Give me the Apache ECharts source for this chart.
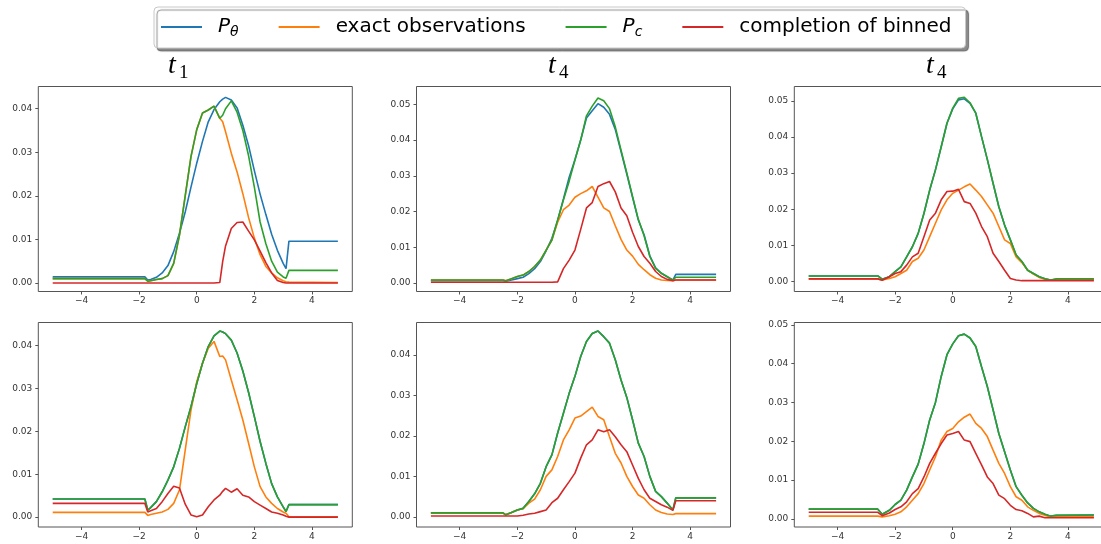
<!DOCTYPE html>
<html>
<head>
<meta charset="utf-8">
<script src="https://cdn.jsdelivr.net/npm/echarts@6/dist/echarts.min.js"></script>
<style>
  html, body { margin: 0; padding: 0; background: #fff; }
  #chart { width: 1101px; height: 544px; }
</style>
</head>
<body>
<div id="chart"></div>
<script>
// Sample positions (x) and densities for the six panels.
// Panels 1 and 4 (column t1)
const xs1 = [-5, -1.8, -1.7, -1.6, -1.4, -1.2, -1.0, -0.8, -0.6, -0.4, -0.2, 0, 0.2, 0.4, 0.6, 0.8, 0.9, 1.0, 1.2, 1.4, 1.6, 1.8, 2.0, 2.2, 2.4, 2.6, 2.8, 3.0, 3.1, 3.2, 4.9];
const theta1  = [0.0014, 0.0014, 0.0007, 0.0008, 0.0013, 0.0023, 0.0040, 0.0072, 0.0114, 0.0163, 0.0220, 0.0275, 0.0325, 0.0370, 0.0398, 0.0416, 0.0422, 0.0426, 0.0420, 0.0402, 0.0362, 0.0315, 0.0258, 0.0204, 0.0157, 0.0112, 0.0075, 0.0045, 0.0033, 0.0096, 0.0096];
const exact1  = [0.0010, 0.0010, 0.0004, 0.0005, 0.0008, 0.0010, 0.0017, 0.0045, 0.0110, 0.0200, 0.0290, 0.0352, 0.0390, 0.0397, 0.0406, 0.0378, 0.0370, 0.0347, 0.0298, 0.0255, 0.0205, 0.0150, 0.0103, 0.0065, 0.0038, 0.0023, 0.0012, 0.0005, 0.0003, 0.0002, 0.0001];
const pc1     = [0.0010, 0.0010, 0.0004, 0.0005, 0.0008, 0.0010, 0.0017, 0.0045, 0.0110, 0.0200, 0.0290, 0.0352, 0.0390, 0.0397, 0.0406, 0.0378, 0.0385, 0.0400, 0.0418, 0.0392, 0.0350, 0.0292, 0.0220, 0.0140, 0.0090, 0.0050, 0.0025, 0.0014, 0.0011, 0.0029, 0.0029];
const binned1 = [0, 0, 0, 0, 0, 0, 0, 0, 0, 0, 0, 0, 0, 0, 0, 0.0001, 0.0049, 0.0085, 0.0125, 0.0139, 0.0140, 0.0119, 0.0099, 0.0073, 0.0047, 0.0023, 0.0006, 0.0001, 0, 0, 0];

const xs4 = [-5, -1.8, -1.7, -1.6, -1.4, -1.2, -1.0, -0.8, -0.6, -0.4, -0.2, 0, 0.2, 0.4, 0.6, 0.8, 0.9, 1.0, 1.2, 1.4, 1.6, 1.8, 2.0, 2.2, 2.4, 2.6, 2.8, 3.0, 3.1, 3.2, 4.9];
const theta4  = [0.0042, 0.0042, 0.0016, 0.0022, 0.0036, 0.0059, 0.0086, 0.0117, 0.0160, 0.0210, 0.0257, 0.0311, 0.0358, 0.0397, 0.0422, 0.0433, 0.0431, 0.0427, 0.0412, 0.0382, 0.0340, 0.0290, 0.0234, 0.0176, 0.0125, 0.0078, 0.0047, 0.0024, 0.0013, 0.0029, 0.0029];
const exact4  = [0.0011, 0.0011, 0.0004, 0.0006, 0.0009, 0.0012, 0.0018, 0.0032, 0.0063, 0.0156, 0.0249, 0.0315, 0.0358, 0.0393, 0.0409, 0.0374, 0.0375, 0.0366, 0.0319, 0.0273, 0.0226, 0.0172, 0.0117, 0.0071, 0.0047, 0.0032, 0.0020, 0.0012, 0.0009, 0.0001, 0.0001];
const pc4     = [0.0042, 0.0042, 0.0016, 0.0022, 0.0036, 0.0059, 0.0086, 0.0117, 0.0160, 0.0210, 0.0257, 0.0311, 0.0358, 0.0397, 0.0422, 0.0433, 0.0431, 0.0427, 0.0412, 0.0382, 0.0340, 0.0290, 0.0234, 0.0176, 0.0125, 0.0078, 0.0047, 0.0024, 0.0013, 0.0029, 0.0029];
const binned4 = [0.0032, 0.0032, 0.0012, 0.0015, 0.0020, 0.0036, 0.0055, 0.0072, 0.0068, 0.0030, 0.0005, 0.0001, 0.0005, 0.0024, 0.0040, 0.0051, 0.0060, 0.0067, 0.0058, 0.0066, 0.0051, 0.0047, 0.0036, 0.0028, 0.0020, 0.0012, 0.0009, 0.0005, 0.0002, 0, 0];

// Panels 2 and 5 (middle column)
const xs2 = [-5, -2.5, -2.4, -2.2, -2.0, -1.8, -1.6, -1.4, -1.2, -1.0, -0.8, -0.6, -0.4, -0.2, 0, 0.2, 0.4, 0.6, 0.8, 1.0, 1.2, 1.4, 1.6, 1.8, 2.0, 2.2, 2.4, 2.6, 2.8, 3.0, 3.2, 3.4, 3.5, 4.9];
const theta2  = [0.0006, 0.0006, 0.0005, 0.0008, 0.0012, 0.0016, 0.0026, 0.0040, 0.0060, 0.0090, 0.0125, 0.0175, 0.0235, 0.0296, 0.0345, 0.0400, 0.0462, 0.0482, 0.0502, 0.0492, 0.0472, 0.0430, 0.0368, 0.0305, 0.0240, 0.0176, 0.0135, 0.0076, 0.0042, 0.0027, 0.0017, 0.0008, 0.0024, 0.0024];
const exact2  = [0.0008, 0.0008, 0.0006, 0.0012, 0.0018, 0.0022, 0.0032, 0.0046, 0.0064, 0.0092, 0.0120, 0.0170, 0.0205, 0.0218, 0.0240, 0.0250, 0.0258, 0.0270, 0.0240, 0.0210, 0.0200, 0.0160, 0.0122, 0.0092, 0.0075, 0.0052, 0.0037, 0.0023, 0.0013, 0.0008, 0.0007, 0.0006, 0.0008, 0.0008];
const pc2     = [0.0008, 0.0008, 0.0006, 0.0012, 0.0018, 0.0022, 0.0032, 0.0046, 0.0064, 0.0092, 0.0120, 0.0176, 0.0232, 0.0285, 0.0344, 0.0400, 0.0468, 0.0495, 0.0518, 0.0510, 0.0488, 0.0437, 0.0372, 0.0308, 0.0242, 0.0178, 0.0132, 0.0074, 0.0041, 0.0027, 0.0018, 0.0008, 0.0016, 0.0016];
const binned2 = [0.0002, 0.0002, 0.0002, 0.0002, 0.0002, 0.0002, 0.0002, 0.0002, 0.0002, 0.0002, 0.0002, 0.0003, 0.0040, 0.0064, 0.0092, 0.0150, 0.0210, 0.0225, 0.0270, 0.0278, 0.0284, 0.0255, 0.0210, 0.0188, 0.0142, 0.0102, 0.0074, 0.0055, 0.0032, 0.0018, 0.0010, 0.0006, 0.0008, 0.0008];

const xs5 = [-5, -2.5, -2.4, -2.2, -2.0, -1.8, -1.6, -1.4, -1.2, -1.0, -0.8, -0.6, -0.4, -0.2, 0, 0.2, 0.4, 0.6, 0.8, 1.0, 1.2, 1.4, 1.6, 1.8, 2.0, 2.2, 2.4, 2.6, 2.8, 3.0, 3.2, 3.4, 3.5, 4.9];
const theta5  = [0.0010, 0.0010, 0.0005, 0.0011, 0.0017, 0.0021, 0.0038, 0.0057, 0.0083, 0.0124, 0.0153, 0.0207, 0.0256, 0.0305, 0.0347, 0.0396, 0.0433, 0.0453, 0.0459, 0.0445, 0.0429, 0.0388, 0.0338, 0.0295, 0.0240, 0.0182, 0.0149, 0.0100, 0.0063, 0.0050, 0.0034, 0.0017, 0.0047, 0.0047];
const exact5  = [0.0010, 0.0010, 0.0005, 0.0011, 0.0017, 0.0020, 0.0034, 0.0044, 0.0067, 0.0100, 0.0116, 0.0149, 0.0190, 0.0215, 0.0244, 0.0249, 0.0260, 0.0271, 0.0248, 0.0240, 0.0198, 0.0157, 0.0133, 0.0100, 0.0075, 0.0054, 0.0046, 0.0030, 0.0017, 0.0011, 0.0007, 0.0006, 0.0008, 0.0008];
const pc5     = [0.0010, 0.0010, 0.0005, 0.0011, 0.0017, 0.0021, 0.0038, 0.0057, 0.0083, 0.0124, 0.0153, 0.0207, 0.0256, 0.0305, 0.0347, 0.0396, 0.0433, 0.0453, 0.0459, 0.0445, 0.0429, 0.0388, 0.0338, 0.0295, 0.0240, 0.0182, 0.0149, 0.0100, 0.0063, 0.0050, 0.0034, 0.0017, 0.0047, 0.0047];
const binned5 = [0.0002, 0.0002, 0.0002, 0.0002, 0.0002, 0.0004, 0.0007, 0.0009, 0.0013, 0.0017, 0.0035, 0.0046, 0.0067, 0.0087, 0.0108, 0.0145, 0.0178, 0.0190, 0.0215, 0.0210, 0.0215, 0.0198, 0.0178, 0.0161, 0.0128, 0.0095, 0.0067, 0.0046, 0.0038, 0.0030, 0.0024, 0.0016, 0.0040, 0.0040];

// Panels 3 and 6 (right column)
const xs3 = [-5, -2.6, -2.45, -2.2, -2.0, -1.8, -1.6, -1.4, -1.2, -1.0, -0.8, -0.6, -0.4, -0.2, 0, 0.2, 0.4, 0.6, 0.8, 1.0, 1.2, 1.4, 1.6, 1.8, 2.0, 2.2, 2.4, 2.6, 2.8, 3.0, 3.2, 3.4, 3.6, 4.9];
const theta3  = [0.0015, 0.0015, 0.0006, 0.0013, 0.0027, 0.0040, 0.0068, 0.0096, 0.0133, 0.0188, 0.0253, 0.0309, 0.0373, 0.0438, 0.0478, 0.0503, 0.0506, 0.0493, 0.0466, 0.0401, 0.0338, 0.0272, 0.0207, 0.0156, 0.0115, 0.0073, 0.0055, 0.0031, 0.0022, 0.0013, 0.0007, 0.0004, 0.0006, 0.0006];
const exact3  = [0.0007, 0.0007, 0.0004, 0.0008, 0.0013, 0.0022, 0.0031, 0.0055, 0.0064, 0.0087, 0.0124, 0.0161, 0.0198, 0.0226, 0.0244, 0.0253, 0.0262, 0.0270, 0.0253, 0.0235, 0.0212, 0.0189, 0.0152, 0.0115, 0.0105, 0.0068, 0.0052, 0.0031, 0.0020, 0.0011, 0.0006, 0.0004, 0.0005, 0.0005];
const pc3     = [0.0015, 0.0015, 0.0006, 0.0013, 0.0027, 0.0040, 0.0068, 0.0096, 0.0133, 0.0188, 0.0253, 0.0309, 0.0373, 0.0438, 0.0480, 0.0507, 0.0510, 0.0495, 0.0466, 0.0401, 0.0338, 0.0272, 0.0207, 0.0156, 0.0115, 0.0073, 0.0055, 0.0031, 0.0022, 0.0013, 0.0007, 0.0004, 0.0007, 0.0007];
const binned3 = [0.0007, 0.0007, 0.0003, 0.0013, 0.0022, 0.0027, 0.0045, 0.0068, 0.0078, 0.0124, 0.0170, 0.0189, 0.0226, 0.0249, 0.0250, 0.0255, 0.0221, 0.0216, 0.0189, 0.0152, 0.0124, 0.0078, 0.0055, 0.0031, 0.0008, 0.0004, 0.0002, 0.0002, 0.0002, 0.0002, 0.0002, 0.0002, 0.0002, 0.0002];

const xs6 = [-5, -2.6, -2.45, -2.2, -2.0, -1.8, -1.6, -1.4, -1.2, -1.0, -0.8, -0.6, -0.4, -0.2, 0, 0.2, 0.4, 0.6, 0.8, 1.0, 1.2, 1.4, 1.6, 1.8, 2.0, 2.2, 2.4, 2.6, 2.8, 3.0, 3.2, 3.4, 3.6, 4.9];
const theta6  = [0.0025, 0.0025, 0.0012, 0.0022, 0.0037, 0.0048, 0.0074, 0.0108, 0.0141, 0.0194, 0.0255, 0.0300, 0.0367, 0.0423, 0.0451, 0.0472, 0.0476, 0.0466, 0.0444, 0.0392, 0.0341, 0.0281, 0.0220, 0.0173, 0.0126, 0.0083, 0.0061, 0.0041, 0.0027, 0.0018, 0.0012, 0.0007, 0.0009, 0.0010];
const exact6  = [0.0007, 0.0007, 0.0005, 0.0008, 0.0012, 0.0018, 0.0031, 0.0048, 0.0065, 0.0091, 0.0126, 0.0160, 0.0203, 0.0225, 0.0233, 0.0250, 0.0262, 0.0270, 0.0246, 0.0233, 0.0212, 0.0177, 0.0143, 0.0117, 0.0083, 0.0057, 0.0048, 0.0031, 0.0022, 0.0014, 0.0009, 0.0005, 0.0005, 0.0005];
const pc6     = [0.0025, 0.0025, 0.0012, 0.0022, 0.0037, 0.0048, 0.0074, 0.0108, 0.0141, 0.0194, 0.0255, 0.0300, 0.0367, 0.0423, 0.0451, 0.0472, 0.0476, 0.0466, 0.0444, 0.0392, 0.0341, 0.0281, 0.0220, 0.0173, 0.0126, 0.0083, 0.0061, 0.0041, 0.0027, 0.0018, 0.0012, 0.0007, 0.0009, 0.0010];
const binned6 = [0.0017, 0.0017, 0.0008, 0.0015, 0.0024, 0.0031, 0.0044, 0.0065, 0.0078, 0.0108, 0.0143, 0.0169, 0.0194, 0.0216, 0.0220, 0.0225, 0.0203, 0.0199, 0.0169, 0.0139, 0.0108, 0.0091, 0.0061, 0.0052, 0.0035, 0.0024, 0.0021, 0.0014, 0.0005, 0.0007, 0.0003, 0.0003, 0.0003, 0.0003];

// Legend entries, tick labels, column titles
const seriesNames = ['P_theta', 'exact observations', 'P_c', 'completion of binned'];
const seriesColors = ['#1f77b4', '#ff7f0e', '#2ca02c', '#d62728'];
const xTicks = [-4, -2, 0, 2, 4];
const yTicksLow = [0, 0.01, 0.02, 0.03, 0.04];
const yTicksHigh = [0, 0.01, 0.02, 0.03, 0.04, 0.05];
const titleSubscripts = ['1', '4', '4'];

// Layout of the 2 x 3 grid of axes
const colLeft = [38.3, 416.5, 794.3];
const rowTop = [86.5, 322.5];
const rowHeight = [205, 204.5];
const axW = 314;
const titleX = [168, 548, 926];

const panels = [
  { x: xs1, lines: [theta1, exact1, pc1, binned1], yr: [-0.00195, 0.0451], ticks: yTicksLow,  col: 0, row: 0 },
  { x: xs2, lines: [theta2, exact2, pc2, binned2], yr: [-0.0024, 0.0550],  ticks: yTicksHigh, col: 1, row: 0 },
  { x: xs3, lines: [theta3, exact3, pc3, binned3], yr: [-0.0028, 0.0540],  ticks: yTicksHigh, col: 2, row: 0 },
  { x: xs4, lines: [theta4, exact4, pc4, binned4], yr: [-0.0023, 0.0453],  ticks: yTicksLow,  col: 0, row: 1 },
  { x: xs5, lines: [theta5, exact5, pc5, binned5], yr: [-0.0025, 0.0480],  ticks: yTicksLow,  col: 1, row: 1 },
  { x: xs6, lines: [theta6, exact6, pc6, binned6], yr: [-0.0021, 0.0506],  ticks: yTicksHigh, col: 2, row: 1 }
];

const spine = '#555';
const tickFont = { fontFamily: 'DejaVu Sans', fontSize: 9, color: '#333' };

const grids = [], xAxes = [], yAxes = [], series = [];
panels.forEach((p, i) => {
  grids.push({
    left: colLeft[p.col], top: rowTop[p.row],
    width: axW, height: rowHeight[p.row],
    show: true, borderColor: spine, borderWidth: 1, backgroundColor: 'transparent',
    containLabel: false, outerBoundsMode: 'none'
  });
  xAxes.push({
    type: 'value', gridIndex: i, min: -5.5, max: 5.4,
    axisLine: { show: false, onZero: false },
    splitLine: { show: false },
    axisTick: { show: true, length: 3, lineStyle: { color: spine, width: 1 }, customValues: xTicks },
    axisLabel: Object.assign({
      margin: 5, customValues: xTicks,
      formatter: v => (v < 0 ? '\u2212' + Math.abs(v) : String(v))
    }, tickFont)
  });
  yAxes.push({
    type: 'value', gridIndex: i, min: p.yr[0], max: p.yr[1],
    axisLine: { show: false, onZero: false },
    splitLine: { show: false },
    axisTick: { show: true, length: 3, lineStyle: { color: spine, width: 1 }, customValues: p.ticks },
    axisLabel: Object.assign({
      margin: 6, customValues: p.ticks,
      formatter: v => v.toFixed(2)
    }, tickFont)
  });
  p.lines.forEach((ys, k) => {
    series.push({
      type: 'line', name: seriesNames[k], xAxisIndex: i, yAxisIndex: i,
      data: p.x.map((xv, j) => [xv, ys[j]]),
      symbol: 'none', showSymbol: false, color: seriesColors[k],
      lineStyle: { width: 1.6, color: seriesColors[k] },
      emphasis: { disabled: true }, z: 2 + k, animation: false
    });
  });
});

// Column titles t_1, t_4, t_4
const graphics = [];
titleX.forEach((x, i) => {
  graphics.push({
    type: 'text', x: x, y: 66,
    style: { text: 't', font: 'italic 28px "Liberation Serif"', fill: '#000', verticalAlign: 'middle', align: 'left' }
  });
  graphics.push({
    type: 'text', x: x + 11, y: 72.9,
    style: { text: titleSubscripts[i], font: '19px "Liberation Serif"', fill: '#000', verticalAlign: 'middle', align: 'left' }
  });
});

const chart = echarts.init(document.getElementById('chart'), null, { renderer: 'canvas' });
chart.setOption({
  animation: false,
  backgroundColor: '#fff',
  grid: grids,
  xAxis: xAxes,
  yAxis: yAxes,
  series: series,
  graphic: graphics,
  legend: {
    data: seriesNames,
    left: 154, top: 7,
    orient: 'horizontal',
    padding: [8, 14, 9, 7],
    itemGap: 40, itemWidth: 41, itemHeight: 2,
    icon: 'rect',
    backgroundColor: '#fff',
    borderColor: '#c8c8c8', borderWidth: 1, borderRadius: 4,
    shadowColor: 'rgba(0,0,0,0.45)', shadowBlur: 1, shadowOffsetX: 3, shadowOffsetY: 3,
    selectedMode: false,
    formatter: name => {
      if (name === 'P_theta') return '{p|P}{s|\u03b8}';
      if (name === 'P_c') return '{p|P}{s|c}';
      return '{n|' + name + '}';
    },
    textStyle: {
      padding: [0, 0, 0, 11],
      color: '#000',
      rich: {
        p: { fontFamily: 'DejaVu Sans', fontStyle: 'italic', fontSize: 20, lineHeight: 24, color: '#000' },
        s: { fontFamily: 'DejaVu Sans', fontStyle: 'italic', fontSize: 14, lineHeight: 14, padding: [10, 0, 0, 0], color: '#000' },
        n: { fontFamily: 'DejaVu Sans', fontSize: 20, lineHeight: 24, color: '#000' }
      }
    }
  }
});
</script>
</body>
</html>
